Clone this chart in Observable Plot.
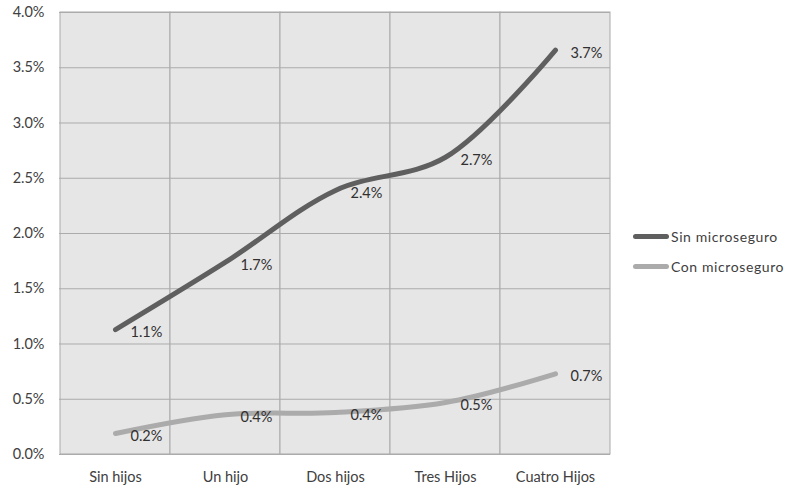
<!DOCTYPE html>
<html>
<head>
<meta charset="utf-8">
<script src="https://cdn.jsdelivr.net/npm/d3@7"></script>
<script src="https://cdn.jsdelivr.net/npm/@observablehq/plot@0.6"></script>
<style>
  html, body { margin: 0; padding: 0; background: #fff; }
  #wrap { position: relative; width: 788px; height: 486px; }
  #legend { position: absolute; left: 633px; top: 221px; font-family: Lato, sans-serif; font-size: 14px; letter-spacing: 0.6px; color: #404040; }
  .item { display: flex; align-items: center; height: 30px; }
  .sw { display: inline-block; width: 36px; height: 5px; border-radius: 3px; margin-right: 2px; }
</style>
</head>
<body>
<div id="wrap"><div id="legend"></div></div>
<script>
const categories = ["Sin hijos", "Un hijo", "Dos hijos", "Tres Hijos", "Cuatro Hijos"];
const sinMicroseguro = [1.13, 1.74, 2.39, 2.69, 3.66];
const conMicroseguro = [0.19, 0.36, 0.38, 0.47, 0.73];
const seriesNames = ["Sin microseguro", "Con microseguro"];
const seriesColors = ["#5f5f5f", "#ababab"];
const yTicks = [0, 0.5, 1, 1.5, 2, 2.5, 3, 3.5, 4];

const sinRows = categories.map((c, i) => ({cat: c, v: sinMicroseguro[i]}));
const conRows = categories.map((c, i) => ({cat: c, v: conMicroseguro[i]}));
const fmt = d => d.toFixed(1) + "%";

const chart = Plot.plot({
  width: 788,
  height: 486,
  marginLeft: 59,
  marginRight: 178,
  marginTop: 12,
  marginBottom: 32,
  style: {fontFamily: "Lato, sans-serif", fontSize: "14.5px", color: "#404040", background: "transparent"},
  x: {domain: categories, padding: 0, label: null, tickSize: 0, tickPadding: 17},
  y: {domain: [0, 4], ticks: yTicks, tickFormat: fmt, label: null, tickSize: 0, tickPadding: 15},
  marks: [
    Plot.barY(categories, {x: d => d, y1: yTicks[0], y2: yTicks[yTicks.length - 1], fill: "#e6e6e6", stroke: "#a9a9a9", strokeWidth: 1}),
    Plot.ruleY(yTicks, {stroke: "#ababab", strokeWidth: 1}),
    Plot.line(conRows, {x: "cat", y: "v", stroke: seriesColors[1], strokeWidth: 5, curve: "catmull-rom", strokeLinecap: "round"}),
    Plot.line(sinRows, {x: "cat", y: "v", stroke: seriesColors[0], strokeWidth: 5, curve: "catmull-rom", strokeLinecap: "round"}),
    Plot.text(sinRows, {x: "cat", y: "v", text: d => fmt(d.v), dx: 15, dy: 3, textAnchor: "start", fill: "#303030", fontSize: 14.5}),
    Plot.text(conRows, {x: "cat", y: "v", text: d => fmt(d.v), dx: 15, dy: 3, textAnchor: "start", fill: "#303030", fontSize: 14.5})
  ]
});
document.getElementById("wrap").prepend(chart);

const legend = document.getElementById("legend");
seriesNames.forEach((n, i) => {
  const item = document.createElement("div");
  item.className = "item";
  const sw = document.createElement("span");
  sw.className = "sw";
  sw.style.background = seriesColors[i];
  item.appendChild(sw);
  item.appendChild(document.createTextNode(n));
  legend.appendChild(item);
});
</script>
</body>
</html>
